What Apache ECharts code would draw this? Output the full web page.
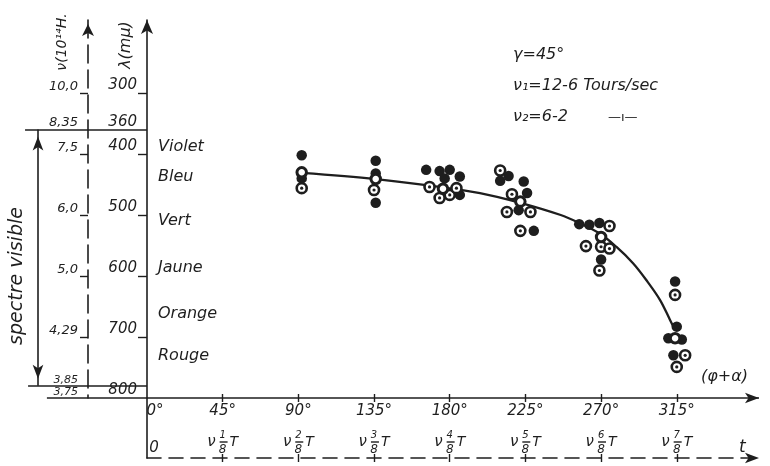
<!DOCTYPE html>
<html>
<head>
<meta charset="utf-8">
<script src="https://cdn.jsdelivr.net/npm/echarts@6/dist/echarts.min.js"></script>
<style>
html,body{margin:0;padding:0;background:#ffffff;}
#chart{width:770px;height:466px;}
</style>
</head>
<body>
<div id="chart"></div>
<script>
// ---------------- data ----------------
const degLabelValues = [0, 45, 90, 135, 180, 225, 270, 315];
const degTickValues = [45, 90, 135, 180, 225, 270, 315];
const periodDenominator = 8;
const lambdaTickValues = [300, 400, 500, 600, 700];
const lambdaLabelValues = [300, 360, 400, 500, 600, 700, 800];
const freqLabelAt = [300, 360, 400, 500, 600, 700, 780, 800];
const freqLabels = ['10,0', '8,35', '7,5', '6,0', '5,0', '4,29', '3,85', '3,75'];
const colourLabelAt = [388, 438, 510, 587, 662, 731];
const colourNames = ['Violet', 'Bleu', 'Vert', 'Jaune', 'Orange', 'Rouge'];
const visibleBounds = [360, 780];

// fitted curve (deg, wavelength in mμ)
const curveDeg    = [92, 136, 168, 198, 222, 246, 257, 269, 279, 289, 297, 305, 311, 314];
const curveLambda = [431, 441, 452, 464, 480, 500, 513, 530, 552, 579, 607, 639, 672, 689];

// filled dots
const filledDeg    = [92, 92, 136, 136, 136, 166, 174, 180, 186, 177, 186, 210, 215, 224, 226, 221, 230, 257, 263, 269, 270, 314, 315, 310, 318, 313];
const filledLambda = [402, 440, 411, 432, 480, 426, 428, 426, 437, 440, 467, 444, 436, 445, 464, 492, 526, 515, 516, 513, 573, 609, 683, 702, 704, 730];

// dotted circles
const dottedDeg    = [92, 135, 168, 174, 180, 184, 210, 217, 214, 228, 222, 275, 261, 270, 275, 269, 314, 320, 315];
const dottedLambda = [456, 459, 454, 472, 467, 456, 427, 466, 495, 495, 526, 518, 551, 552, 555, 591, 631, 730, 749];

// open (mean) circles on the curve
const meanDeg    = [92, 136, 176, 222, 270, 314];
const meanLambda = [430, 441, 457, 478, 536, 702];

// ---------------- layout / style ----------------
const INK = '#1e1e1e';
const FONT = '"DejaVu Sans", "Liberation Sans", sans-serif';
const X_MIN = -75.5, X_MAX = 363.9;
const LAMBDA_TOP = 180.3, LAMBDA_BOTTOM = 800;
const AXIS_LEFT_DEG = -59.5, LINE360_LEFT_DEG = -72.5, LINE780_LEFT_DEG = -70.7, BRACKET_DEG = -64.8;
const T_LABEL_DEG = 354;

const pts = (xs, ys) => xs.map((x, i) => [x, ys[i]]);
const txt = (extra) => Object.assign({ color: INK, fontFamily: FONT, fontStyle: 'italic' }, extra || {});
function nearestIndex(arr, v) {
  let b = 0;
  for (let i = 1; i < arr.length; i++) if (Math.abs(arr[i] - v) < Math.abs(arr[b] - v)) b = i;
  return b;
}
const axisLineStyle = { color: INK, width: 1.6 };
const tickStyle = { color: INK, width: 1.4 };

const chart = echarts.init(document.getElementById('chart'));

const option = {
  backgroundColor: '#ffffff',
  animation: false,
  grid: [
    { left: 20, right: 11, top: 20, bottom: 68, containLabel: false, outerBoundsMode: 'none' },
    { left: 147, right: 11, top: 398, bottom: 8, containLabel: false, outerBoundsMode: 'none' }
  ],
  xAxis: [
    {
      type: 'value', gridIndex: 0, min: X_MIN, max: X_MAX, position: 'bottom',
      axisLine: { show: false, onZero: false }, splitLine: { show: false },
      axisTick: { show: true, customValues: degTickValues, length: 4, lineStyle: tickStyle },
      axisLabel: Object.assign(txt({ fontSize: 15 }), {
        customValues: degLabelValues, margin: 6,
        formatter: v => (v === 0 ? '{z|0°}' : v + '°'),
        rich: { z: txt({ fontSize: 15, padding: [0, 0, 0, 16] }) }
      })
    },
    {
      type: 'value', gridIndex: 0, min: X_MIN, max: X_MAX, position: 'bottom',
      axisLine: { show: false, onZero: false }, splitLine: { show: false }, axisLabel: { show: false },
      axisTick: { show: true, inside: true, customValues: degTickValues, length: 4, lineStyle: tickStyle }
    },
    {
      type: 'value', gridIndex: 1, min: 0, max: X_MAX, position: 'bottom',
      axisLine: { show: true, onZero: false, symbol: ['none', 'arrow'], symbolSize: [8, 14],
        lineStyle: { color: INK, width: 1.6, type: [14, 8] } },
      splitLine: { show: false },
      axisTick: { show: true, customValues: degTickValues, length: 4, lineStyle: tickStyle },
      axisLabel: Object.assign(txt({ fontSize: 15 }), {
        inside: true, margin: 2,
        customValues: degLabelValues.concat([T_LABEL_DEG]),
        formatter: v => {
          if (v === 0) return '{z|0}';
          if (v > 340) return '{t|t}';
          const k = Math.round(v / 45);
          return '{num|' + k + '}\n{nu|ν}{bar| }{T|T}\n{den|' + periodDenominator + '}';
        },
        rich: {
          z: txt({ fontSize: 15, padding: [0, 0, 0, 14] }),
          t: txt({ fontSize: 17 }),
          num: txt({ fontSize: 10, lineHeight: 10 }),
          nu: txt({ fontSize: 15, lineHeight: 4, padding: [0, 4, 0, 0] }),
          bar: { width: 8, height: 1.4, lineHeight: 4, backgroundColor: INK, fontSize: 4 },
          T: txt({ fontSize: 14, lineHeight: 4, padding: [0, 0, 0, 2] }),
          den: txt({ fontSize: 12, lineHeight: 12 })
        }
      })
    },
    {
      type: 'value', gridIndex: 1, min: 0, max: X_MAX, position: 'bottom',
      axisLine: { show: false, onZero: false }, splitLine: { show: false }, axisLabel: { show: false },
      axisTick: { show: true, inside: true, customValues: degTickValues, length: 4, lineStyle: tickStyle }
    }
  ],
  yAxis: [
    {
      type: 'value', gridIndex: 0, inverse: true, min: LAMBDA_TOP, max: LAMBDA_BOTTOM,
      position: 'left', offset: -127,
      axisLine: { show: true, onZero: false, symbol: ['none', 'arrow'], symbolSize: [9, 14], lineStyle: axisLineStyle },
      axisTick: { show: true, customValues: lambdaTickValues, length: 9, lineStyle: tickStyle },
      axisLabel: Object.assign(txt({ fontSize: 15 }), { customValues: lambdaLabelValues, margin: 10, verticalAlign: 'bottom' }),
      splitLine: { show: false }
    },
    {
      type: 'value', gridIndex: 0, inverse: true, min: LAMBDA_TOP, max: LAMBDA_BOTTOM,
      position: 'left', offset: -68,
      axisLine: { show: true, onZero: false, symbol: ['none', 'arrow'], symbolSize: [9, 12], symbolOffset: [0, -4],
        lineStyle: { color: INK, width: 1.6, type: [18, 7] } },
      axisTick: { show: true, customValues: lambdaTickValues, length: 8, lineStyle: tickStyle },
      axisLabel: Object.assign(txt({ fontSize: 13 }), {
        customValues: freqLabelAt, margin: 10, verticalAlign: 'bottom',
        formatter: v => {
          const i = nearestIndex(freqLabelAt, v);
          return i >= 6 ? '{s|' + freqLabels[i] + '}' : freqLabels[i];
        },
        rich: { s: txt({ fontSize: 11 }) }
      }),
      splitLine: { show: false }
    },
    {
      type: 'value', gridIndex: 0, inverse: true, min: LAMBDA_TOP, max: LAMBDA_BOTTOM,
      position: 'left', offset: -127,
      axisLine: { show: false, onZero: false }, axisTick: { show: false }, splitLine: { show: false },
      axisLabel: Object.assign(txt({ fontSize: 16 }), {
        inside: true, margin: 11, customValues: colourLabelAt, verticalAlign: 'middle',
        formatter: v => colourNames[nearestIndex(colourLabelAt, v)]
      })
    },
    {
      type: 'value', gridIndex: 1, min: 0, max: 1, position: 'left',
      axisLine: { show: true, onZero: false, lineStyle: axisLineStyle },
      axisTick: { show: false }, axisLabel: { show: false }, splitLine: { show: false }
    }
  ],
  graphic: [
    { type: 'text', x: 17, y: 276, rotation: Math.PI / 2, silent: true,
      style: { text: 'spectre visible', fill: INK, font: 'italic 19px ' + FONT, align: 'center', verticalAlign: 'middle' } },
    { type: 'text', x: 62, y: 42, rotation: Math.PI / 2, silent: true,
      style: { text: 'ν(10¹⁴H.', fill: INK, font: 'italic 14px ' + FONT, align: 'center', verticalAlign: 'middle' } },
    { type: 'text', x: 126, y: 45, rotation: Math.PI / 2, silent: true,
      style: { text: 'λ(mμ)', fill: INK, font: 'italic 16px ' + FONT, align: 'center', verticalAlign: 'middle' } },
    { type: 'text', x: 513, y: 55, silent: true,
      style: { text: 'γ=45°', fill: INK, font: 'italic 16px ' + FONT, align: 'left', verticalAlign: 'middle' } },
    { type: 'text', x: 513, y: 86, silent: true,
      style: { text: 'ν₁=12-6 Tours/sec', fill: INK, font: 'italic 16px ' + FONT, align: 'left', verticalAlign: 'middle' } },
    { type: 'text', x: 513, y: 117, silent: true,
      style: { text: 'ν₂=6-2', fill: INK, font: 'italic 16px ' + FONT, align: 'left', verticalAlign: 'middle' } },
    { type: 'text', x: 608, y: 118, silent: true,
      style: { text: '—ı—', fill: INK, font: '13px ' + FONT, align: 'left', verticalAlign: 'middle' } },
    { type: 'text', x: 701, y: 377, silent: true,
      style: { text: '(φ+α)', fill: INK, font: 'italic 16px ' + FONT, align: 'left', verticalAlign: 'middle' } }
  ],
  series: [
    {
      name: 'guides', type: 'line', xAxisIndex: 0, yAxisIndex: 0, data: [], silent: true,
      markLine: {
        silent: true, animation: false, symbol: ['none', 'none'], label: { show: false },
        emphasis: { disabled: true },
        lineStyle: { color: INK, width: 1.6, type: 'solid' },
        data: [
          [{ coord: [AXIS_LEFT_DEG, LAMBDA_BOTTOM] }, { coord: [X_MAX, LAMBDA_BOTTOM], symbol: 'arrow', symbolSize: [8, 14] }],
          [{ coord: [LINE360_LEFT_DEG, visibleBounds[0]] }, { coord: [0, visibleBounds[0]] }],
          [{ coord: [LINE780_LEFT_DEG, visibleBounds[1]] }, { coord: [0, visibleBounds[1]] }],
          [{ coord: [BRACKET_DEG, visibleBounds[0]], symbol: 'arrow', symbolSize: [8, 14], symbolOffset: [0, 7] },
           { coord: [BRACKET_DEG, visibleBounds[1]], symbol: 'arrow', symbolSize: [8, 14], symbolOffset: [0, 7] }]
        ]
      }
    },
    {
      name: 'courbe', type: 'line', xAxisIndex: 0, yAxisIndex: 0, data: pts(curveDeg, curveLambda),
      smooth: 0.35, showSymbol: false, silent: true, z: 2,
      lineStyle: { color: INK, width: 2.3 }
    },
    {
      name: 'filled', type: 'scatter', xAxisIndex: 0, yAxisIndex: 0, data: pts(filledDeg, filledLambda),
      symbol: 'circle', symbolSize: 10.5, silent: true, z: 3,
      itemStyle: { color: INK, opacity: 1 }
    },
    {
      name: 'dotted', type: 'scatter', xAxisIndex: 0, yAxisIndex: 0, data: pts(dottedDeg, dottedLambda),
      symbol: 'circle', symbolSize: 10, silent: true, z: 4,
      itemStyle: { color: '#ffffff', borderColor: INK, borderWidth: 2.6, opacity: 1 }
    },
    {
      name: 'dotted-centre', type: 'scatter', xAxisIndex: 0, yAxisIndex: 0, data: pts(dottedDeg, dottedLambda),
      symbol: 'circle', symbolSize: 3.2, silent: true, z: 5,
      itemStyle: { color: INK, opacity: 1 }
    },
    {
      name: 'mean', type: 'scatter', xAxisIndex: 0, yAxisIndex: 0, data: pts(meanDeg, meanLambda),
      symbol: 'circle', symbolSize: 9.5, silent: true, z: 6,
      itemStyle: { color: '#ffffff', borderColor: INK, borderWidth: 3, opacity: 1 }
    }
  ]
};

chart.setOption(option);
</script>
</body>
</html>
